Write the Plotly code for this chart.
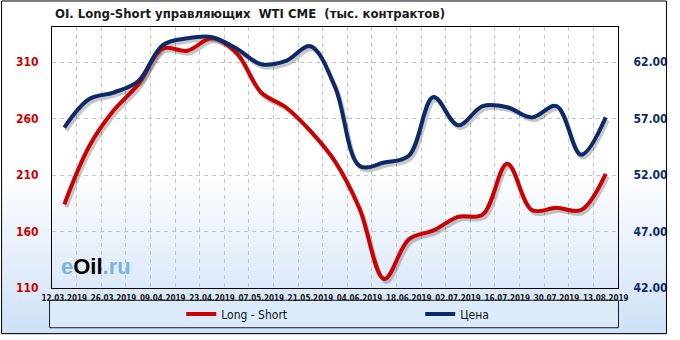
import plotly.graph_objects as go

# ---- data ----
dates = ["12.03.2019", "19.03.2019", "26.03.2019", "02.04.2019", "09.04.2019", "16.04.2019",
         "23.04.2019", "30.04.2019", "07.05.2019", "14.05.2019", "21.05.2019", "28.05.2019",
         "04.06.2019", "11.06.2019", "18.06.2019", "25.06.2019", "02.07.2019", "09.07.2019",
         "16.07.2019", "23.07.2019", "30.07.2019", "06.08.2019", "13.08.2019"]
long_short = [184, 235, 267, 290, 322, 320, 331, 318, 283, 270, 249, 222,
              180, 118, 153, 161, 173, 175, 220, 179, 181, 179, 211]
price = [56.2, 58.7, 59.3, 60.3, 63.5, 64.1, 64.2, 63.2, 61.8, 62.1, 63.4, 59.8,
         52.8, 53.1, 53.7, 58.9, 56.4, 58.1, 58.0, 57.1, 58.1, 53.8, 57.1]
left_ticks = [110, 160, 210, 260, 310]
right_ticks = [42, 47, 52, 57, 62]
left_range = [110, 341]
right_range = [42, 65.1]

W, H = 680, 340
L, R, T, B = 52, 50, 27, 47
PW, PH = W - L - R, H - T - B

def px(xp):
    return (xp - L) / PW

def py(yp):
    return (H - B - yp) / PH

x = list(range(len(dates)))
RED = "#cc0000"
BLUE = "#0c2a6a"

# shadow offsets (in axis units, ~2px right, 3px down)
dx = 2 / (PW / len(dates))
k = (left_range[1] - left_range[0]) / (right_range[1] - right_range[0])
dy_left = 3 * (left_range[1] - left_range[0]) / PH

fig = go.Figure()
shadow = "rgba(0,0,0,0.22)"
fig.add_trace(go.Scatter(x=[v + dx for v in x], y=[v - dy_left for v in long_short],
                         mode="lines", line=dict(color=shadow, width=4, shape="spline", smoothing=1),
                         showlegend=False, hoverinfo="skip"))
fig.add_trace(go.Scatter(x=[v + dx for v in x],
                         y=[left_range[0] + (v - right_range[0]) * k - dy_left for v in price],
                         mode="lines", line=dict(color=shadow, width=4, shape="spline", smoothing=1),
                         showlegend=False, hoverinfo="skip"))
fig.add_trace(go.Scatter(x=x, y=long_short, name="Long - Short", mode="lines",
                         line=dict(color=RED, width=4, shape="spline", smoothing=1),
                         legend="legend"))
fig.add_trace(go.Scatter(x=x, y=price, name="Цена", mode="lines", yaxis="y2",
                         line=dict(color=BLUE, width=4, shape="spline", smoothing=1),
                         legend="legend2"))

shapes = []
# background gradient (white -> light blue) toward the bottom
g0, g1 = 170, 340
n = 34
c0 = (255, 255, 255)
c1 = (206, 225, 246)
for i in range(n):
    y0p = g0 + (g1 - g0) * i / n
    y1p = g0 + (g1 - g0) * (i + 1) / n
    t = (i + 0.5) / n
    col = tuple(int(round(c0[j] + (c1[j] - c0[j]) * t)) for j in range(3))
    shapes.append(dict(type="rect", xref="paper", yref="paper", layer="below",
                       x0=px(0), x1=px(W), y0=py(y1p + 0.5), y1=py(y0p),
                       line=dict(width=0), fillcolor="rgb(%d,%d,%d)" % col))
# legend box
shapes.append(dict(type="rect", xref="paper", yref="paper", layer="below",
                   x0=px(49.5), x1=px(630.5), y0=py(333.5), y1=py(305.5),
                   line=dict(color="#1a1a2a", width=1), fillcolor="#dcebfa"))
# outer frame
shapes.append(dict(type="rect", xref="paper", yref="paper", layer="above",
                   x0=px(0.5), x1=px(679.5), y0=py(339.5), y1=py(0.5),
                   line=dict(color="#000000", width=1), fillcolor="rgba(0,0,0,0)"))

fig.update_layout(
    width=W, height=H,
    margin=dict(l=L, r=R, t=T, b=B, pad=0),
    paper_bgcolor="white",
    plot_bgcolor="rgba(0,0,0,0)",
    shapes=shapes,
    xaxis=dict(range=[-0.5, len(dates) - 0.5], tickmode="array",
               tickvals=x[::2], ticktext=dates[::2],
               showgrid=False, zeroline=False,
               showline=True, linecolor="black", linewidth=1, mirror=True,
               ticks="", ticklabelstandoff=2,
               tickfont=dict(family="DejaVu Sans Condensed", size=8, color="#1a1a1a", weight="bold"),
               minor=dict(tick0=0.5, dtick=1, showgrid=True, gridcolor="#c4c4c4",
                          griddash="4px,4px", gridwidth=1, ticks="")),
    yaxis=dict(range=left_range, tickmode="array", tickvals=left_ticks,
               showgrid=True, gridcolor="#c4c4c4", griddash="4px,4px", gridwidth=1,
               zeroline=False, showline=True, linecolor="black", linewidth=1,
               ticks="", ticklabelstandoff=10,
               tickfont=dict(family="DejaVu Sans Condensed", size=12, color=RED, weight="bold")),
    yaxis2=dict(range=right_range, tickmode="array", tickvals=right_ticks, tickformat=".2f",
                overlaying="y", side="right", showgrid=False, zeroline=False,
                showline=True, linecolor="black", linewidth=1,
                ticks="", ticklabelstandoff=12,
                tickfont=dict(family="DejaVu Sans Condensed", size=12, color=BLUE, weight="bold")),
    legend=dict(x=px(184), y=py(319.5), xanchor="left", yanchor="middle",
                orientation="h", bgcolor="rgba(0,0,0,0)", borderwidth=0,
                font=dict(family="DejaVu Sans Condensed", size=12, color="#111111")),
    legend2=dict(x=px(428), y=py(319.5), xanchor="left", yanchor="middle",
                 orientation="h", bgcolor="rgba(0,0,0,0)", borderwidth=0,
                 font=dict(family="DejaVu Sans Condensed", size=12, color="#111111")),
    annotations=[
        dict(text="OI. Long-Short управляющих  WTI CME  (тыс. контрактов)",
             xref="paper", yref="paper", x=px(53), y=py(13), xanchor="left", yanchor="middle",
             showarrow=False,
             font=dict(family="DejaVu Sans Condensed", size=13, color="#1a1a1a", weight="bold")),
        dict(text="<span style='color:#7fb3de'>e</span><span style='color:#000000'>Oil</span>"
                  "<span style='color:#7fb3de'>.ru</span>",
             xref="paper", yref="paper", x=px(59), y=py(271), xanchor="left", yanchor="middle",
             showarrow=False,
             font=dict(family="Liberation Sans", size=22, color="#7fb3de", weight="bold")),
    ],
)

fig.write_html("out.html")
